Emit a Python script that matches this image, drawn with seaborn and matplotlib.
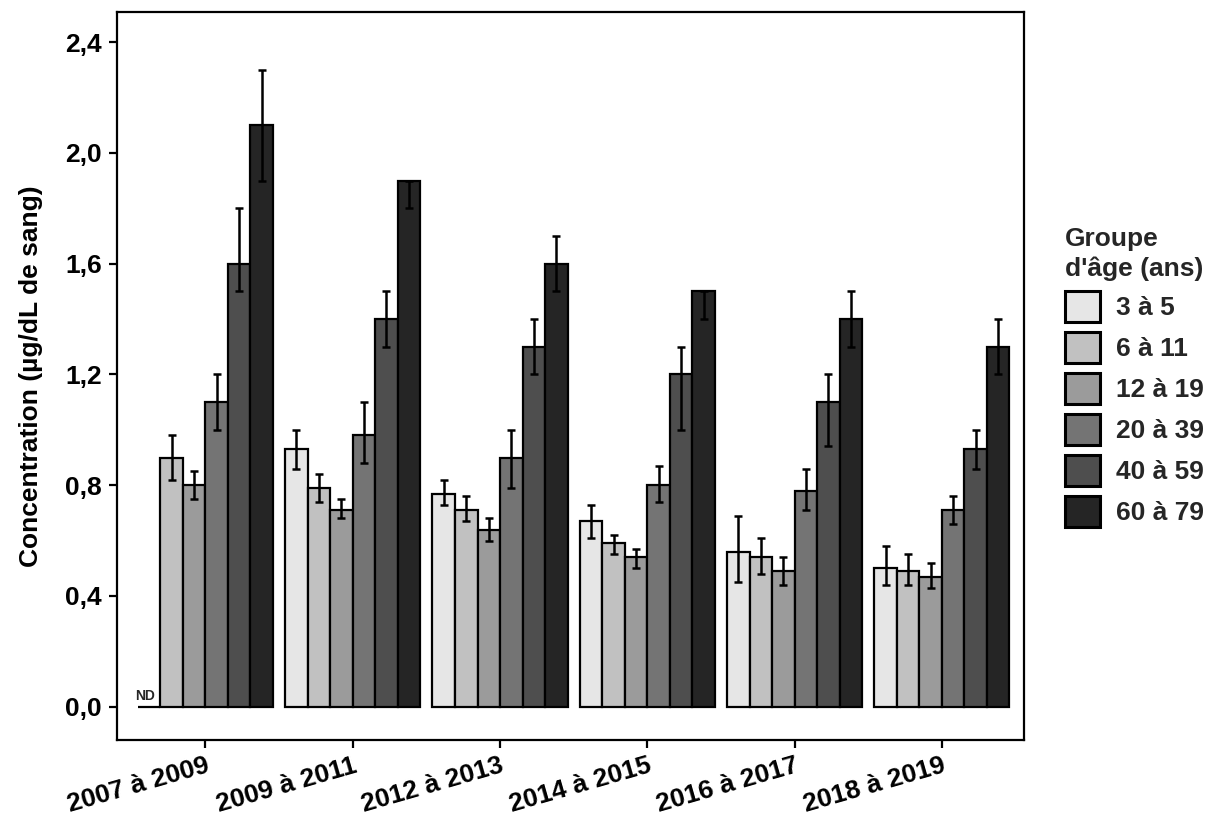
import matplotlib
matplotlib.use("Agg")
import matplotlib.pyplot as plt
from matplotlib.patches import Patch
from matplotlib.ticker import FuncFormatter
import numpy as np
import pandas as pd
import seaborn as sns

# Survey cycles and age groups
periods = ["2007 à 2009", "2009 à 2011", "2012 à 2013",
           "2014 à 2015", "2016 à 2017", "2018 à 2019"]
age_groups = ["3 à 5", "6 à 11", "12 à 19", "20 à 39", "40 à 59", "60 à 79"]

# Geometric mean blood lead (µg/dL), one list per age group (ND = 0)
mean_3_5   = [0.00, 0.93, 0.77, 0.67, 0.56, 0.50]
mean_6_11  = [0.90, 0.79, 0.71, 0.59, 0.54, 0.49]
mean_12_19 = [0.80, 0.71, 0.64, 0.54, 0.49, 0.47]
mean_20_39 = [1.10, 0.98, 0.90, 0.80, 0.78, 0.71]
mean_40_59 = [1.60, 1.40, 1.30, 1.20, 1.10, 0.93]
mean_60_79 = [2.10, 1.90, 1.60, 1.50, 1.40, 1.30]

# 95 % confidence interval bounds
low_3_5   = [0.00, 0.86, 0.73, 0.61, 0.45, 0.44]
high_3_5  = [0.00, 1.00, 0.82, 0.73, 0.69, 0.58]
low_6_11  = [0.82, 0.74, 0.67, 0.55, 0.48, 0.44]
high_6_11 = [0.98, 0.84, 0.76, 0.62, 0.61, 0.55]
low_12_19  = [0.75, 0.68, 0.60, 0.50, 0.44, 0.43]
high_12_19 = [0.85, 0.75, 0.68, 0.57, 0.54, 0.52]
low_20_39  = [1.00, 0.88, 0.79, 0.74, 0.71, 0.66]
high_20_39 = [1.20, 1.10, 1.00, 0.87, 0.86, 0.76]
low_40_59  = [1.50, 1.30, 1.20, 1.00, 0.94, 0.86]
high_40_59 = [1.80, 1.50, 1.40, 1.30, 1.20, 1.00]
low_60_79  = [1.90, 1.80, 1.50, 1.40, 1.30, 1.20]
high_60_79 = [2.30, 1.90, 1.70, 1.50, 1.50, 1.40]

greys = ["#e6e6e6", "#c1c1c1", "#9b9b9b", "#747474", "#4e4e4e", "#252525"]

means = [mean_3_5, mean_6_11, mean_12_19, mean_20_39, mean_40_59, mean_60_79]
lows = [low_3_5, low_6_11, low_12_19, low_20_39, low_40_59, low_60_79]
highs = [high_3_5, high_6_11, high_12_19, high_20_39, high_40_59, high_60_79]

rows = []
for g, vals, lo, hi in zip(age_groups, means, lows, highs):
    for p, v, l, h in zip(periods, vals, lo, hi):
        rows.append({"period": p, "age": g, "value": v, "low": l, "high": h})
df = pd.DataFrame(rows)

sns.set_theme(style="white")
plt.rcParams["font.family"] = ["Liberation Sans", "DejaVu Sans"]
plt.rcParams["font.weight"] = "bold"

FS = 19

fig = plt.figure(figsize=(12.13, 8.22), dpi=100)
ax = fig.add_axes([0.0965, 0.0998, 0.748, 0.886])

sns.barplot(data=df, x="period", y="value", hue="age", order=periods,
            hue_order=age_groups, palette=greys, width=0.917, gap=0,
            errorbar=None, edgecolor="black", linewidth=1.6,
            legend=False, ax=ax, zorder=2)

# Asymmetric confidence intervals drawn over each bar
for cont, g in zip(ax.containers, age_groups):
    sub = df[df["age"] == g].set_index("period").loc[periods]
    for bar, (_, r) in zip(cont.patches, sub.iterrows()):
        if r["value"] <= 0:
            continue
        xc = bar.get_x() + bar.get_width() / 2
        ax.errorbar(xc, r["value"],
                    yerr=[[r["value"] - r["low"]], [r["high"] - r["value"]]],
                    fmt="none", ecolor="black", elinewidth=1.8,
                    capsize=3.2, capthick=1.8, zorder=3)

# Non-detected value for the youngest group in the first cycle
first = ax.containers[0].patches[0]
ax.text(first.get_x() + first.get_width() / 2 - 0.03, 0.012, "ND",
        ha="center", va="bottom", fontsize=10, fontweight="bold")

ax.set_xlim(-0.60, 5.56)
ax.set_ylim(-0.12, 2.51)
ax.set_yticks([0.0, 0.4, 0.8, 1.2, 1.6, 2.0, 2.4])
ax.yaxis.set_major_formatter(FuncFormatter(lambda v, _: f"{v:.1f}".replace(".", ",")))

for s in ax.spines.values():
    s.set_color("black")
    s.set_linewidth(1.6)

ax.tick_params(axis="both", which="major", direction="out", length=6,
               width=1.6, color="black", labelsize=FS, labelcolor="black",
               bottom=True, left=True)
ax.tick_params(axis="y", pad=5)
ax.tick_params(axis="x", pad=4)
for lab in ax.get_xticklabels():
    lab.set_rotation(16)
    lab.set_ha("right")
    lab.set_rotation_mode("anchor")
    lab.set_fontweight("bold")
for lab in ax.get_yticklabels():
    lab.set_fontweight("bold")

ax.set_xlabel("")
ax.set_ylabel("Concentration (µg/dL de sang)", fontsize=FS,
              fontweight="bold", color="black", labelpad=16)

handles = [Patch(facecolor=c, edgecolor="black", linewidth=2.2) for c in greys]
leg = fig.legend(handles, age_groups, title="Groupe\nd'âge (ans)",
                 loc="upper left", bbox_to_anchor=(0.857, 0.754),
                 frameon=False, fontsize=FS, title_fontsize=FS,
                 handlelength=1.35, handleheight=1.4, labelspacing=0.40,
                 handletextpad=0.6, borderpad=0.45, alignment="left")
leg.get_title().set_fontweight("bold")
leg.get_title().set_linespacing(1.25)
for t in leg.get_texts():
    t.set_fontweight("bold")

fig.savefig("out.png", dpi=100)
